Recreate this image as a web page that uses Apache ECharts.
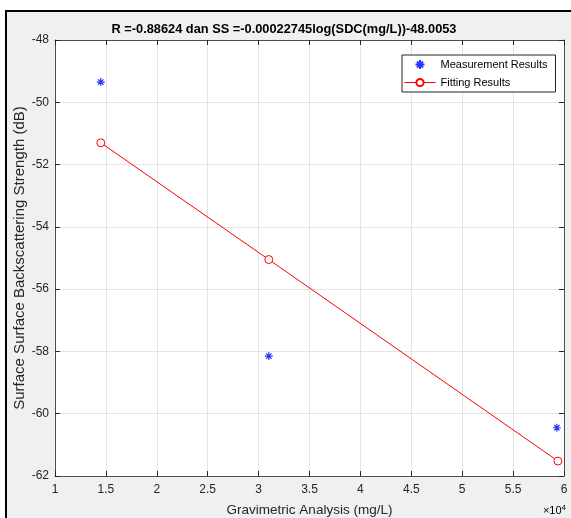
<!DOCTYPE html>
<html>
<head>
<meta charset="utf-8">
<script src="https://cdn.jsdelivr.net/npm/echarts@6/dist/echarts.min.js"></script>
<style>html,body{margin:0;padding:0;background:#fff}#c{width:571px;height:518px}</style>
</head>
<body>
<div id="c"></div>
<script>
var titleText = 'R =-0.88624 dan SS =-0.00022745log(SDC(mg/L))-48.0053';
var xName = 'Gravimetric Analysis (mg/L)';
var yName = 'Surface Surface Backscattering Strength (dB)';
var measureName = 'Measurement Results';
var fitName = 'Fitting Results';
var measX = [14500, 31000, 59300];
var measY = [-49.35, -58.15, -60.45];
var fitX = [14500, 31000, 59400];
var fitY = [-51.30, -55.05, -61.52];
var xMin = 10000, xMax = 60000, xStep = 5000;
var yMin = -62, yMax = -48, yStep = 2;

var FONT = 'Liberation Sans, Arial, sans-serif';
var AX = '#262626';
var starPath = 'path://M0,5L10,5M5,0L5,10M1.6,1.6L8.4,8.4M8.4,1.6L1.6,8.4';

var chart = echarts.init(document.getElementById('c'), null, {renderer: 'canvas'});

function pairs(xs, ys) { return xs.map(function (x, i) { return [x, ys[i]]; }); }

var axisCommon = {
  axisLine: {show: true, onZero: false, lineStyle: {color: '#4d4d4d', width: 1}},
  axisTick: {show: true, inside: true, length: 5, lineStyle: {color: AX}},
  axisLabel: {color: AX, fontSize: 12, fontFamily: FONT, margin: 6},
  splitLine: {show: true, lineStyle: {color: '#e3e3e3', width: 1}},
  nameMoveOverlap: false
};

chart.setOption({
  backgroundColor: '#f0f0f0',
  animation: false,
  textStyle: {fontFamily: FONT},
  grid: {left: 55, right: 7, top: 40, bottom: 42, show: true, backgroundColor: '#ffffff', borderWidth: 0,
         outerBoundsMode: 'none', containLabel: false},
  xAxis: [
    Object.assign({}, axisCommon, {
      type: 'value', position: 'bottom', min: xMin, max: xMax, interval: xStep,
      name: xName, nameLocation: 'middle', nameGap: 27,
      nameTextStyle: {color: AX, fontSize: 13.5, fontFamily: FONT},
      axisLabel: {color: AX, fontSize: 12, fontFamily: FONT, margin: 8,
        formatter: function (v) { return String(+(v / 10000).toFixed(2)); }}
    }),
    Object.assign({}, axisCommon, {
      type: 'value', position: 'top', min: xMin, max: xMax, interval: xStep,
      axisLabel: {show: false}, splitLine: {show: false}
    })
  ],
  yAxis: [
    Object.assign({}, axisCommon, {
      type: 'value', position: 'left', min: yMin, max: yMax, interval: yStep,
      name: yName, nameLocation: 'middle', nameGap: 28,
      nameTextStyle: {color: AX, fontSize: 15, fontFamily: FONT}
    }),
    Object.assign({}, axisCommon, {
      type: 'value', position: 'right', min: yMin, max: yMax, interval: yStep,
      axisLabel: {show: false}, splitLine: {show: false}
    })
  ],
  legend: {
    orient: 'vertical', left: 402, top: 55,
    backgroundColor: '#ffffff', borderColor: AX, borderWidth: 1, borderRadius: 0,
    padding: [4, 8, 4, 2], itemGap: 7, itemWidth: 31, itemHeight: 9,
    lineStyle: {width: 1},
    textStyle: {color: '#000', fontSize: 11, fontFamily: FONT},
    data: [measureName, fitName]
  },
  series: [
    {
      name: measureName, type: 'scatter', data: pairs(measX, measY),
      symbol: starPath, symbolSize: 8, symbolKeepAspect: true,
      itemStyle: {color: 'rgba(0,0,0,0)', borderColor: '#0000ff', borderWidth: 1.2}
    },
    {
      name: fitName, type: 'line', data: pairs(fitX, fitY),
      symbol: 'circle', symbolSize: 8, showAllSymbol: true,
      lineStyle: {color: '#ff0000', width: 1},
      itemStyle: {color: '#ffffff', borderColor: '#ff0000', borderWidth: 1}
    }
  ],
  graphic: [
    {type: 'rect', silent: true, shape: {x: 0, y: 0, width: 571, height: 10}, style: {fill: '#ffffff'}},
    {type: 'rect', silent: true, shape: {x: 0, y: 0, width: 5, height: 518}, style: {fill: '#ffffff'}},
    {type: 'line', silent: true, shape: {x1: 5, y1: 11, x2: 571, y2: 11}, style: {stroke: '#000', lineWidth: 2}},
    {type: 'line', silent: true, shape: {x1: 6, y1: 10, x2: 6, y2: 518}, style: {stroke: '#000', lineWidth: 2}},
    {type: 'text', silent: true, x: 284, y: 29,
      style: {text: titleText, fill: '#000', font: 'bold 12.8px ' + FONT, align: 'center', verticalAlign: 'middle'}},
    {type: 'text', silent: true, x: 566, y: 511,
      style: {text: '{a|×10}{b|4}', align: 'right', verticalAlign: 'middle',
        rich: {a: {fontSize: 11, fontFamily: FONT, color: AX},
               b: {fontSize: 8, fontFamily: FONT, verticalAlign: 'top', color: AX, padding: [0, 0, 7, 0]}}}}
  ]
});
</script>
</body>
</html>
